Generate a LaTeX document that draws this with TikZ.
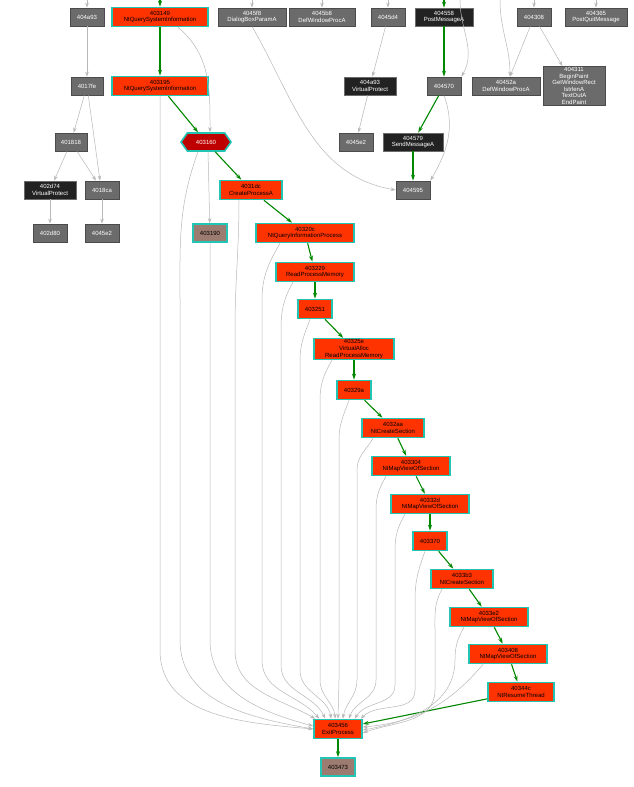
\documentclass[tikz,border=0pt]{standalone}
\usepackage{fontspec}
\setmainfont{Liberation Sans}
\usetikzlibrary{shapes.geometric,shapes.symbols,arrows.meta}
\definecolor{rd}{HTML}{FF3300}
\definecolor{cy}{HTML}{22C4B4}
\definecolor{gy}{HTML}{6B6B6B}
\definecolor{dk}{HTML}{222222}
\definecolor{br}{HTML}{9C7B70}
\definecolor{ge}{HTML}{008800}
\tikzset{
 base/.style={draw, rectangle, align=center, inner sep=1pt, font=\fontsize{6}{6.6}\selectfont, minimum height=18pt},
 g/.style={base, fill=gy, draw=gy!70!black, text=white, line width=0.8pt},
 d/.style={base, fill=dk, draw=gy, text=white, line width=0.8pt},
 r/.style={base, fill=rd, draw=cy, text=black, line width=1.6pt, minimum height=19pt},
 b/.style={base, fill=br, draw=cy, text=black, line width=1.6pt},
 hx/.style={signal, signal to=east and west, signal pointer angle=110, draw=cy, fill=red!75!black, text=white, line width=1.6pt, inner sep=1pt, font=\fontsize{6}{6.6}\selectfont, minimum width=50pt, minimum height=18pt},
 ge/.style={draw=ge, line width=1.1pt, -{Stealth[length=6pt,width=4pt]}},
 gr/.style={draw=black!28, line width=0.5pt, -{Stealth[length=5pt,width=3.5pt]}},
}
\begin{document}
\begin{tikzpicture}[x=1pt,y=-1pt]
\useasboundingbox[fill=white] (0,0) rectangle (634,787);
% top row
\node[g,minimum width=34pt] (a93) at (87,17) {404a93};
\node[r,minimum width=96pt] (n149) at (160,17) {403149\\NtQuerySystemInformation};
\node[g,minimum width=68pt] (f8) at (252,17) {4045f8\\DialogBoxParamA};
\node[g,minimum width=66pt] (b8) at (322,17) {4045b8\\DefWindowProcA};
\node[g,minimum width=34pt] (d4) at (388,17) {4045d4};
\node[d,minimum width=58pt] (n558) at (444,17) {404558\\PostMessageA};
\node[g,minimum width=34pt] (n308) at (534,17) {404308};
\node[g,minimum width=62pt] (n365) at (596,17) {404365\\PostQuitMessage};
% row 2
\node[g,minimum width=32pt] (fe) at (87,86) {4017fe};
\node[r,minimum width=96pt] (n195) at (160,86) {403195\\NtQuerySystemInformation};
\node[d,minimum width=52pt] (vp2) at (370,86) {404a93\\VirtualProtect};
\node[g,minimum width=34pt] (n570) at (444,86) {404570};
\node[g,minimum width=68pt] (n52a) at (506,86) {40452a\\DefWindowProcA};
\node[g,minimum width=62pt] (n311) at (574,86) {404311\\BeginPaint\\GetWindowRect\\lstrlenA\\TextOutA\\EndPaint};
% row 3
\node[g,minimum width=32pt] (n818) at (71,142) {401818};
\node[hx] (n160) at (206,142) {403160};
\node[g,minimum width=34pt] (e2r) at (356,142) {4045e2};
\node[d,minimum width=60pt] (n579) at (413,142) {404579\\SendMessageA};
% row 4
\node[d,minimum width=52pt] (n274) at (50,190) {402d74\\VirtualProtect};
\node[g,minimum width=34pt] (ca) at (102,190) {4018ca};
\node[r,minimum width=62pt] (n1dc) at (251,190) {4031dc\\CreateProcessA};
\node[g,minimum width=34pt] (n595) at (413,190) {404595};
% row 5
\node[g,minimum width=34pt] (d80) at (50,233) {402d80};
\node[g,minimum width=34pt] (e2l) at (102,233) {4045e2};
\node[b,minimum width=34pt] (n190) at (210,233) {403190};
\node[r,minimum width=98pt] (n20c) at (305,233) {40320c\\NtQueryInformationProcess};
% chain
\node[r,minimum width=78pt] (n229) at (315,272) {403229\\ReadProcessMemory};
\node[r,minimum width=34pt] (n251) at (315,309) {403251};
\node[r,minimum width=80pt] (n25e) at (354,349) {40325e\\VirtualAlloc\\ReadProcessMemory};
\node[r,minimum width=34pt] (n29a) at (354,390) {40329a};
\node[r,minimum width=62pt] (n2aa) at (393,428) {4032aa\\NtCreateSection};
\node[r,minimum width=78pt] (n304) at (411,466) {403304\\NtMapViewOfSection};
\node[r,minimum width=78pt] (n32d) at (430,504) {40332d\\NtMapViewOfSection};
\node[r,minimum width=34pt] (n370) at (430,541) {403370};
\node[r,minimum width=62pt] (n3b3) at (462,579) {4033b3\\NtCreateSection};
\node[r,minimum width=78pt] (n3e2) at (489,617) {4033e2\\NtMapViewOfSection};
\node[r,minimum width=78pt] (n408) at (508,654) {403408\\NtMapViewOfSection};
\node[r,minimum width=66pt] (n44c) at (521,692) {40344c\\NtResumeThread};
\node[r,minimum width=48pt] (ex) at (338,729) {403456\\ExitProcess};
\node[b,minimum width=34pt] (n473) at (338,767) {403473};
% free ends at top
\coordinate (t1) at (87,0); \coordinate (t2) at (160,0); \coordinate (t3) at (252,0);
\coordinate (t4) at (322,0); \coordinate (t5) at (388,0); \coordinate (t6) at (444,0);
\coordinate (t7) at (534,0); \coordinate (t8) at (596,0); \coordinate (t9) at (460,0); \coordinate (t10) at (500,0);
\foreach \c/\n in {t1/a93,t3/f8,t4/b8,t5/d4,t7/n308,t8/n365} \draw[gr] (\c) -- (\n);
\draw[ge] (t2) -- (n149); \draw[ge] (t6) -- (n558);
\draw[gr] (t9) to[out=-90,in=60] (n570.north east);
\draw[gr] (t10) to[out=-90,in=90] ([xshift=4pt]n52a.north);
% green chain
\foreach \a/\b in {n149/n195,n195/n160,n160/n1dc,n1dc/n20c,n20c/n229,n229/n251,n251/n25e,n25e/n29a,n29a/n2aa,n2aa/n304,n304/n32d,n32d/n370,n370/n3b3,n3b3/n3e2,n3e2/n408,n408/n44c,ex/n473,n558/n570,n570/n579,n579/n595}
  \draw[ge] (\a) -- (\b);
\draw[ge] (n44c) -- (ex);
% gray left
\draw[gr] (a93) -- (fe);
\draw[gr] (fe) -- (n818);
\draw[gr] (fe) -- ([xshift=-2pt]ca.north);
\draw[gr] (n818) -- (n274);
\draw[gr] (n818) -- ([xshift=-6pt]ca.north);
\draw[gr] (n274) -- (d80);
\draw[gr] (ca) -- (e2l);
\draw[gr] ([xshift=18pt]n149.south) to[out=-40,in=90] ([xshift=4pt]n160.north);
\draw[gr] ([xshift=2pt]n160.south) -- (n190);
\draw[gr] (d4) -- (vp2);
\draw[gr] (vp2) -- (e2r);
\draw[gr] (n570.south) to[out=-70,in=60] (n595.north east);
\draw[gr] (f8.south) to[out=-60,in=170] (n595.west);
\draw[gr] (n308) -- ([xshift=4pt]n52a.north);
\draw[gr] (n308) -- (n311);
% gray to exit
\draw[gr] (n195.south) -- (160,650) to[out=-90,in=175] (ex.west);
\draw[gr] ([xshift=-8pt]n160.south) to[out=-110,in=90] (180,300) -- (180,640) to[out=-90,in=170] (ex.west);
\draw[gr] (n190.south) -- (210,640) to[out=-90,in=165] ([yshift=3pt]ex.west);
\draw[gr] ([xshift=-12pt]n1dc.south) to[out=-90,in=90] (235,330) -- (235,650) to[out=-90,in=150] ([xshift=2pt]ex.north west);
\draw[gr] ([xshift=-25pt]n20c.south) to[out=-120,in=90] (262,300) -- (262,660) to[out=-90,in=130] ([xshift=6pt]ex.north west);
\draw[gr] ([xshift=-22pt]n229.south) to[out=-120,in=90] (281,330) -- (281,665) to[out=-90,in=115] ([xshift=12pt]ex.north west);
\draw[gr] ([xshift=-5pt]n251.south) to[out=-110,in=90] (300,360) -- (300,670) to[out=-90,in=100] ([xshift=18pt]ex.north west);
\draw[gr] ([xshift=-22pt]n25e.south) to[out=-120,in=90] (320,400) -- (320,680) to[out=-90,in=95] ([xshift=22pt]ex.north west);
\draw[gr] ([xshift=-5pt]n29a.south) to[out=-110,in=90] (339,440) -- (339,680) -- (ex.north);
\draw[gr] ([xshift=-20pt]n2aa.south) to[out=-120,in=90] (357,470) -- (357,680) to[out=-90,in=80] ([xshift=-20pt]ex.north east);
\draw[gr] ([xshift=-25pt]n304.south) to[out=-120,in=90] (376,510) -- (376,680) to[out=-90,in=70] ([xshift=-14pt]ex.north east);
\draw[gr] ([xshift=-25pt]n32d.south) to[out=-120,in=90] (395,550) -- (395,685) to[out=-90,in=60] ([xshift=-8pt]ex.north east);
\draw[gr] ([xshift=-5pt]n370.south) to[out=-110,in=90] (415,600) -- (415,690) to[out=-90,in=45] ([xshift=-2pt]ex.north east);
\draw[gr] ([xshift=-20pt]n3b3.south) to[out=-120,in=90] (435,630) -- (435,690) to[out=-90,in=20] ([yshift=-4pt]ex.east);
\draw[gr] ([xshift=-25pt]n3e2.south) to[out=-120,in=90] (455,660) to[out=-90,in=10] ([yshift=-1pt]ex.east);
\draw[gr] ([xshift=-25pt]n408.south) to[out=-130,in=5] ([yshift=2pt]ex.east);
\end{tikzpicture}
\end{document}
